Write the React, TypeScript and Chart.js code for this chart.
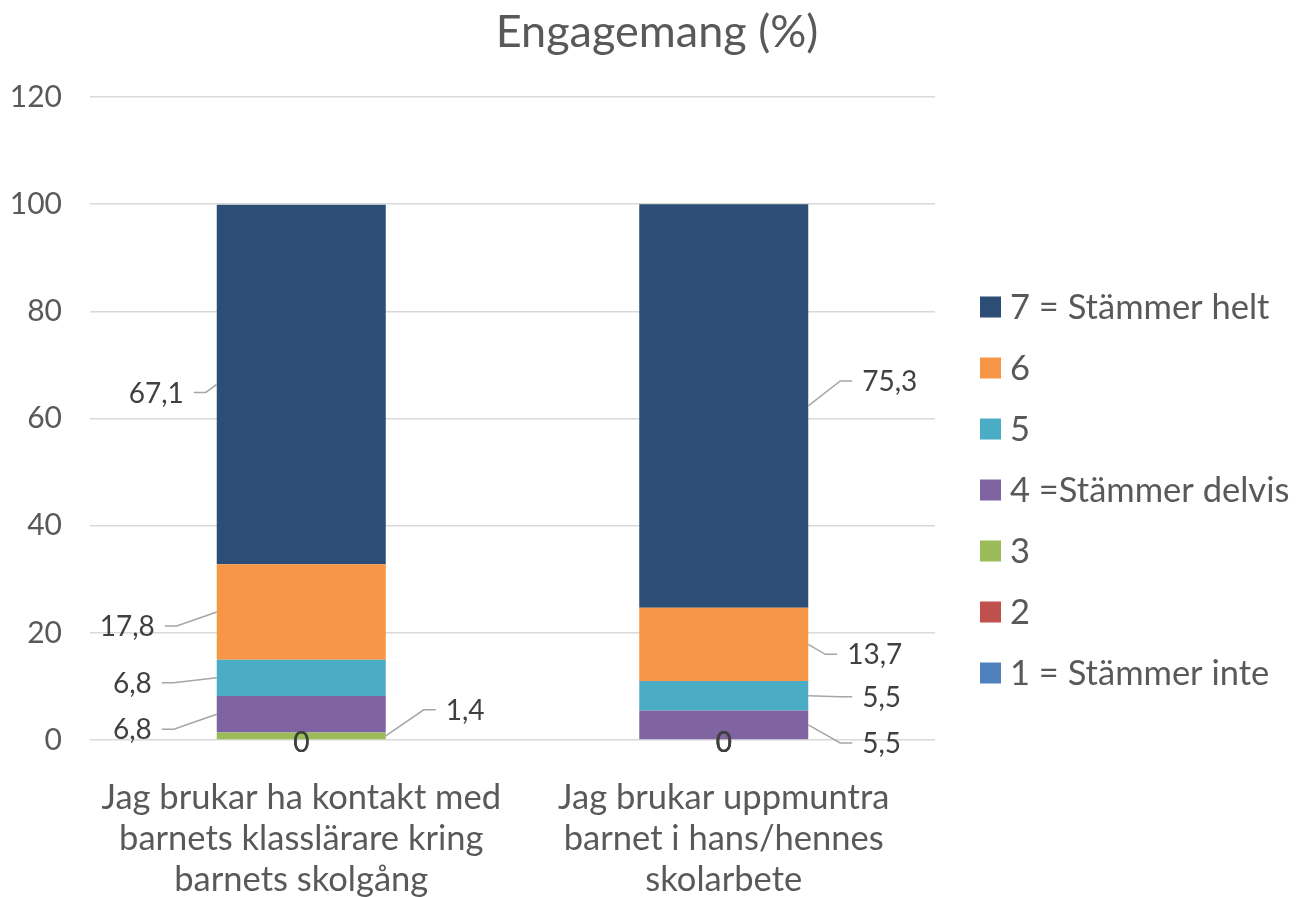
import React, { useEffect, useRef } from "react";
import { Chart, registerables } from "chart.js";

Chart.register(...registerables);

const titleText = "Engagemang (%)";
const categories = [
  ["Jag brukar ha kontakt med", "barnets klasslärare kring", "barnets skolgång"],
  ["Jag brukar uppmuntra", "barnet i hans/hennes", "skolarbete"],
];
const seriesNames = [
  "1 = Stämmer inte",
  "2",
  "3",
  "4 =Stämmer delvis",
  "5",
  "6",
  "7 = Stämmer helt",
];
const series1 = [0, 0];
const series2 = [0, 0];
const series3 = [1.4, 0];
const series4 = [6.8, 5.5];
const series5 = [6.8, 5.5];
const series6 = [17.8, 13.7];
const series7 = [67.1, 75.3];
const seriesValues = [series1, series2, series3, series4, series5, series6, series7];
const yTicks = [0, 20, 40, 60, 80, 100, 120];

const colors = ["#4F81BD", "#C0504D", "#9BBB59", "#8064A2", "#4BACC6", "#F79646", "#2C4D75"];

// leader-line label placement (style only): per series, per category
type Place = { side: "left" | "right"; dx: number; dy: number } | null;
const placements: Place[][] = [
  [null, null],
  [null, null],
  [{ side: "right", dx: 38, dy: -26 }, null],
  [{ side: "left", dx: -43, dy: 15 }, { side: "right", dx: 32, dy: 18 }],
  [{ side: "left", dx: -43, dy: 5 }, { side: "right", dx: 32, dy: 1 }],
  [{ side: "left", dx: -40, dy: 14 }, { side: "right", dx: 17, dy: 10 }],
  [{ side: "left", dx: -11, dy: 8 }, { side: "right", dx: 32, dy: -25 }],
];

const FONT = "Lato, 'Open Sans', sans-serif";
const TEXT = "#595959";
const LABEL = "#404040";

const titlePlugin = {
  id: "centerTitle",
  afterDraw(chart: any) {
    const ctx = chart.ctx;
    ctx.save();
    ctx.font = `45px ${FONT}`;
    ctx.fillStyle = TEXT;
    ctx.textAlign = "center";
    ctx.textBaseline = "middle";
    ctx.fillText(titleText, 657, 32);
    ctx.restore();
  },
};

const labelPlugin = {
  id: "leaderLabels",
  afterDatasetsDraw(chart: any) {
    const ctx = chart.ctx;
    ctx.save();
    ctx.font = `28px ${FONT}`;
    ctx.fillStyle = LABEL;
    ctx.textBaseline = "middle";
    chart.data.datasets.forEach((ds: any, i: number) => {
      const meta = chart.getDatasetMeta(i);
      meta.data.forEach((bar: any, j: number) => {
        const v = ds.data[j] as number;
        const { x, y, base, width } = bar.getProps(["x", "y", "base", "width"], true);
        const txt = String(v).replace(".", ",");
        const p = placements[i][j];
        if (v === 0 || !p) {
          ctx.textAlign = "center";
          ctx.fillText(txt, x, base + 3);
          return;
        }
        const yc = (y + base) / 2;
        const dir = p.side === "left" ? -1 : 1;
        const sx = x + (dir * width) / 2;
        const ex = sx + p.dx;
        const ey = yc + p.dy;
        const hx = ex + dir * 12;
        ctx.strokeStyle = "#A6A6A6";
        ctx.lineWidth = 1.5;
        ctx.beginPath();
        ctx.moveTo(sx, yc);
        ctx.lineTo(ex, ey);
        ctx.lineTo(hx, ey);
        ctx.stroke();
        ctx.textAlign = dir < 0 ? "right" : "left";
        ctx.fillText(txt, hx + dir * 10, ey + 1);
      });
    });
    ctx.restore();
  },
};

const legendPlugin = {
  id: "sideLegend",
  afterDraw(chart: any) {
    const ctx = chart.ctx;
    ctx.save();
    ctx.font = `34.5px ${FONT}`;
    ctx.textBaseline = "middle";
    ctx.textAlign = "left";
    const n = chart.data.datasets.length;
    for (let k = n - 1; k >= 0; k--) {
      const ds = chart.data.datasets[k];
      const yy = 307 + (n - 1 - k) * 61;
      ctx.fillStyle = ds.backgroundColor;
      ctx.fillRect(980, yy - 10.5, 21, 21);
      ctx.fillStyle = TEXT;
      ctx.fillText(ds.label, 1010, yy + 1);
    }
    ctx.restore();
  },
};

export default function App() {
  const ref = useRef<HTMLCanvasElement | null>(null);
  useEffect(() => {
    if (!ref.current) return;
    const chart = new Chart(ref.current, {
      type: "bar",
      data: {
        labels: categories,
        datasets: seriesValues.map((vals, i) => ({
          label: seriesNames[i],
          data: vals,
          backgroundColor: colors[i],
          borderWidth: 0,
          categoryPercentage: 1,
          barPercentage: 0.4,
        })),
      },
      options: {
        responsive: false,
        animation: false,
        layout: { padding: { left: 0, right: 362, top: 97, bottom: 0 } },
        plugins: {
          legend: { display: false },
          tooltip: { enabled: false },
          title: { display: false },
        },
        scales: {
          x: {
            stacked: true,
            grid: { display: false },
            border: { display: false },
            ticks: {
              color: TEXT,
              font: { family: FONT, size: 34.5, lineHeight: "41px" },
              padding: 29,
              maxRotation: 0,
              autoSkip: false,
            },
            afterFit(scale: any) {
              scale.height = 157;
            },
          },
          y: {
            stacked: true,
            min: 0,
            max: 120,
            afterBuildTicks(scale: any) {
              scale.ticks = yTicks.map((v) => ({ value: v }));
            },
            grid: { color: "#D9D9D9", lineWidth: 1.5, drawTicks: false },
            border: { display: false },
            ticks: {
              color: TEXT,
              font: { family: FONT, size: 30 },
              padding: 28,
            },
            afterFit(scale: any) {
              scale.width = 90;
            },
          },
        },
      },
      plugins: [labelPlugin, legendPlugin, titlePlugin],
    });
    return () => chart.destroy();
  }, []);
  return (
    <div style={{ position: "fixed", left: 0, top: 0, width: 1297, height: 897, background: "#fff" }}>
      <canvas ref={ref} width={1297} height={897} />
    </div>
  );
}
